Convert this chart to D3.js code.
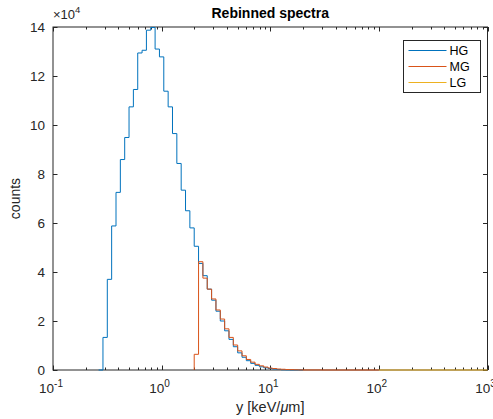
<!DOCTYPE html>
<html lang="en">
<head>
    <meta charset="UTF-8">
    <title>Rebinned spectra</title>
    <script src="https://d3js.org/d3.v7.min.js"></script>
    <style>
        body { margin: 0; background: #fff; }
        text { font-family: "Liberation Sans", Arial, sans-serif; fill: #262626; }
        .stairs { fill: none; stroke-width: 1px; }
    </style>
</head>
<body>
    <svg width="493" height="419"></svg>

    <script>
        // Bin edges (keV/um) and counts for each gain channel
        const hgEdges = [0.2630, 0.2884, 0.3162, 0.3467, 0.3802, 0.4169, 0.4571, 0.5012, 0.5495,
            0.6026, 0.6607, 0.7244, 0.7943, 0.8710, 0.9550, 1.0471, 1.1482, 1.2589, 1.3804,
            1.5136, 1.6596, 1.8197, 1.9953, 2.1878, 2.3988, 2.6303, 2.8840, 3.1623, 3.4674,
            3.8019, 4.1687, 4.5709, 5.0119, 5.4954, 6.0256, 6.6069, 7.2444, 7.9433, 8.7096,
            9.5499, 10.471, 11.482, 12.589, 13.804, 15.136, 16.596, 18.197, 19.953];
        const hgCounts = [0, 13300, 37000, 58800, 72500, 85900, 94900, 107400, 114500,
            129400, 130500, 138700, 139800, 131000, 127800, 113800, 107400, 96500, 84300,
            73400, 65000, 58000, 50500, 43500, 38500, 33000, 28500, 24000, 20000,
            16000, 12500, 9500, 7000, 5200, 3800, 2700, 1900, 1300, 900,
            600, 400, 200, 100, 50, 0, 0, 0];

        const mgEdges = [1.9953, 2.1878, 2.3988, 2.6303, 2.8840, 3.1623, 3.4674, 3.8019, 4.1687, 4.5709,
            5.0119, 5.4954, 6.0256, 6.6069, 7.2444, 7.9433, 8.7096, 9.5499, 10.471, 11.482,
            12.589, 13.804, 15.136, 16.596, 18.197, 19.953, 30, 50, 100];
        const mgCounts = [6400, 44200, 37500, 33000, 29000, 24500, 20800, 16800, 13300, 10200,
            7800, 5800, 4300, 3200, 2300, 1700, 1200, 800, 600, 400,
            300, 200, 150, 100, 50, 20, 0, 0];

        const lgEdges = [100, 200, 500, 1000];
        const lgCounts = [0, 0, 0];

        const seriesNames = ["HG", "MG", "LG"];
        const seriesColors = ["#0072BD", "#D95319", "#EDB120"];

        const xTicks = [0.1, 1, 10, 100, 1000];
        const xTickExp = ["-1", "0", "1", "2", "3"];
        const yTicks = [0, 20000, 40000, 60000, 80000, 100000, 120000, 140000];
        const yTickLabels = ["0", "2", "4", "6", "8", "10", "12", "14"];

        const svg = d3.select("svg"),
            margin = { top: 27, left: 53 },
            width = 434.5,
            height = 343,
            g = svg.append("g").attr("transform", "translate(" + margin.left + "," + margin.top + ")");

        const x = d3.scaleLog().domain([0.1, 1000]).range([0, width]);
        const y = d3.scaleLinear().domain([0, 140000]).range([height, 0]);

        g.append("clipPath").attr("id", "plotclip")
            .append("rect").attr("x", -1).attr("y", -1).attr("width", width + 2).attr("height", height + 2);

        // box
        g.append("rect")
            .attr("width", width).attr("height", height)
            .attr("fill", "none").attr("stroke", "#262626").attr("stroke-width", 1);

        // minor + major x ticks (inside, top and bottom)
        const minor = [];
        for (let d = 0.1; d < 1000; d *= 10) {
            for (let m = 2; m <= 9; m++) minor.push(d * m);
        }
        const tickG = g.append("g").attr("stroke", "#262626").attr("stroke-width", 1);
        minor.forEach(v => {
            const px = Math.round(x(v)) + 0.5;
            tickG.append("line").attr("x1", px).attr("x2", px).attr("y1", height).attr("y2", height - 2.5);
            tickG.append("line").attr("x1", px).attr("x2", px).attr("y1", 0).attr("y2", 2.5);
        });
        xTicks.forEach(v => {
            const px = Math.round(x(v)) + 0.5;
            tickG.append("line").attr("x1", px).attr("x2", px).attr("y1", height).attr("y2", height - 4.5);
            tickG.append("line").attr("x1", px).attr("x2", px).attr("y1", 0).attr("y2", 4.5);
        });
        yTicks.forEach(v => {
            const py = Math.round(y(v)) + 0.5;
            tickG.append("line").attr("x1", 0).attr("x2", 4.5).attr("y1", py).attr("y2", py);
            tickG.append("line").attr("x1", width).attr("x2", width - 4.5).attr("y1", py).attr("y2", py);
        });

        // x tick labels 10^n
        xTicks.forEach((v, i) => {
            const t = g.append("text")
                .attr("x", x(v) - 2)
                .attr("y", height + 23)
                .attr("text-anchor", "middle")
                .style("font-size", "13.5px");
            t.append("tspan").text("10");
            t.append("tspan").attr("dy", -6).style("font-size", "10px").text(xTickExp[i]);
        });

        // y tick labels
        yTicks.forEach((v, i) => {
            g.append("text")
                .attr("x", -8)
                .attr("y", y(v))
                .attr("dy", "0.35em")
                .attr("text-anchor", "end")
                .style("font-size", "13.5px")
                .text(yTickLabels[i]);
        });

        // exponent marker
        const ex = g.append("text").attr("x", 0).attr("y", -8).style("font-size", "13px");
        ex.append("tspan").text("\u00d710");
        ex.append("tspan").attr("dy", -6).style("font-size", "9.5px").text("4");

        // stairs
        const line = d3.line()
            .x(d => x(d[0]))
            .y(d => y(d[1]))
            .curve(d3.curveStepAfter);

        function stairs(edges, counts) {
            const pts = [[edges[0], 0]];
            counts.forEach((c, i) => pts.push([edges[i], c]));
            pts.push([edges[edges.length - 1], counts[counts.length - 1]]);
            pts.push([edges[edges.length - 1], 0]);
            return pts;
        }

        const plot = g.append("g").attr("clip-path", "url(#plotclip)");
        [[hgEdges, hgCounts], [mgEdges, mgCounts], [lgEdges, lgCounts]].forEach((s, i) => {
            plot.append("path")
                .attr("class", "stairs")
                .attr("stroke", seriesColors[i])
                .attr("d", line(stairs(s[0], s[1])));
        });

        // title
        svg.append("text")
            .attr("x", margin.left + width / 2)
            .attr("y", 18)
            .attr("text-anchor", "middle")
            .style("font-size", "14px")
            .style("font-weight", "bold")
            .style("fill", "#000")
            .text("Rebinned spectra");

        // x label
        const xl = svg.append("text")
            .attr("x", margin.left + width / 2)
            .attr("y", 412)
            .attr("text-anchor", "middle")
            .style("font-size", "14.5px");
        xl.append("tspan").text("y [keV/");
        xl.append("tspan").style("font-style", "italic").text("\u03bc");
        xl.append("tspan").text("m]");

        // y label
        svg.append("text")
            .attr("transform", "translate(20," + (margin.top + height / 2) + ") rotate(-90)")
            .attr("text-anchor", "middle")
            .style("font-size", "14px")
            .text("counts");

        // legend
        const lg = svg.append("g").attr("transform", "translate(403.5,40.5)");
        lg.append("rect").attr("width", 77).attr("height", 52)
            .attr("fill", "#fff").attr("stroke", "#262626").attr("stroke-width", 1);
        seriesNames.forEach((n, i) => {
            const ly = 10 + i * 16;
            lg.append("line").attr("x1", 5).attr("x2", 43).attr("y1", ly).attr("y2", ly)
                .attr("stroke", seriesColors[i]).attr("stroke-width", 1);
            lg.append("text").attr("x", 46).attr("y", ly).attr("dy", "0.35em")
                .style("font-size", "12.5px").style("fill", "#000").text(n);
        });
    </script>
</body>
</html>
